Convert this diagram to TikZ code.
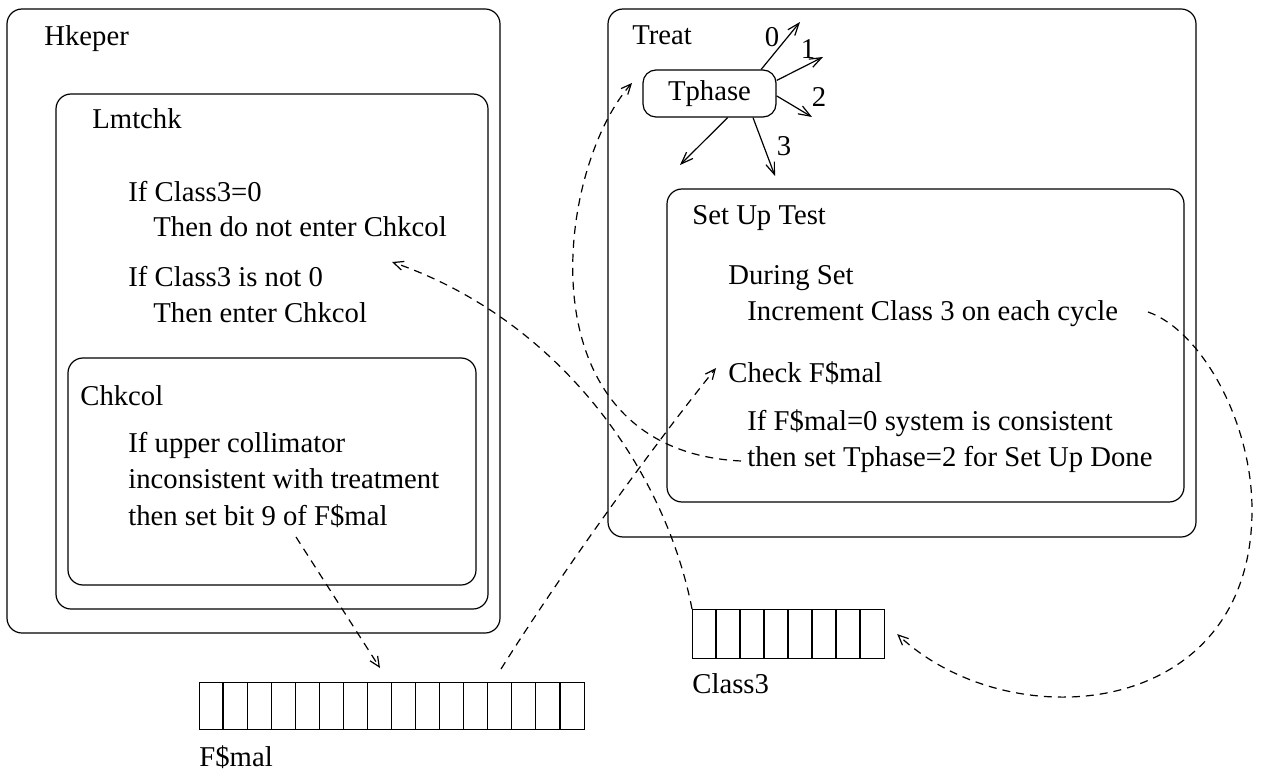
\documentclass[tikz,border=0pt]{standalone}
\usepackage{fontspec}
\setmainfont{Liberation Serif}
\usetikzlibrary{arrows.meta, positioning, fit}

\tikzset{
  box/.style={draw, rounded corners=7.5pt, inner sep=0pt, line width=0.6pt},
  txt/.style={anchor=base west, inner sep=0pt},
  link/.style={line width=0.6pt, dash pattern=on 4pt off 3pt,
    -{Straight Barb[length=5pt,width=4.5pt]}},
  go/.style={line width=0.6pt, -{Straight Barb[length=6pt,width=4.5pt]}},
  reg/.style={draw, line width=0.6pt, inner sep=0pt, anchor=north west}
}

\begin{document}
\begin{tikzpicture}[x=0.5pt, y=-0.5pt, font=\fontsize{14.35}{18.35}\selectfont]
\path[fill=white, use as bounding box] (0,0) rectangle (1263,770);

% Hkeper, Lmtchk and Chkcol
\node[box, fit={(7,9) (500,633)}] (hkeper) {};
\node[box, fit={(56,94) (488,609)}] (lmtchk) {};
\node[box, fit={(68,358) (476,585)}] (chkcol) {};
\node[txt] (hklbl) at (44,46) {Hkeper};
\node[txt] (lmlbl) at (92,129) {Lmtchk};
\node[txt] (ifzero) at (128,202) {If Class3=0};
\node[txt] (noenter) at (153,237) {Then do not enter Chkcol};
\node[txt] (ifnot) at (128,286) {If Class3 is not 0};
\node[txt] (enter) at (153,322) {Then enter Chkcol};
\node[txt] (cklbl) at (80,405) {Chkcol};
\node[txt] (upper) at (128,452) {If upper collimator};
\node[txt] (incons) at (128,488) {inconsistent with treatment};
\node[txt] (setbit) at (128,525) {then set bit 9 of F\$mal};

% Treat and Set Up Test
\node[box, fit={(608,9) (1196,537)}] (treat) {};
\node[box, fit={(667,189) (1184,502)}] (setup) {};
\node[txt] (trlbl) at (632,45) {Treat};
\node[txt] (sulbl) at (692,225) {Set Up Test};
\node[txt] (during) at (728,285) {During Set};
\node[txt] (incr) at (747,321) {Increment Class 3 on each cycle};
\node[txt] (check) at (728,382) {Check F\$mal};
\node[txt] (fzero) at (747,430) {If F\$mal=0 system is consistent};
\node[txt] (tset) at (747,466) {then set Tphase=2 for Set Up Done};

% Tphase and its transitions
\node[box, rounded corners=6.5pt, minimum width=66.5pt, minimum height=23.5pt]
  (tphase) at (709.5,93.5) {Tphase};
\coordinate (ph0) at (800,22);
\coordinate (ph1) at (823,57);
\coordinate (ph2) at (812,117);
\coordinate (ph3) at (775,176);
\coordinate (phx) at (680,165);
\draw[go] (tphase.25) -- (ph0);
\draw[go] (tphase.11) -- (ph1);
\draw[go] (tphase.-2) -- (ph2);
\draw[go] (tphase.-29) -- (ph3);
\draw[go] (tphase.-53) -- (phx);
\node (lbl0) at (772,37) {0};
\node (lbl1) at (808,49) {1};
\node (lbl2) at (819,97) {2};
\node (lbl3) at (784,146) {3};

% Registers
\node[reg, minimum width=192.5pt, minimum height=23.5pt] (fmal) at (199,682) {};
\foreach \i in {1,...,15}
  \draw[line width=0.6pt] ({199+24.06*\i},682) -- ({199+24.06*\i},729);
\node[txt] (fmlbl) at (199,766) {F\$mal};
\node[reg, minimum width=96pt, minimum height=24.5pt] (class3) at (692,609) {};
\foreach \i in {1,...,7}
  \draw[line width=0.6pt] ({692+24*\i},609) -- ({692+24*\i},658);
\node[txt] (c3lbl) at (692,693) {Class3};

% Dashed data flows
\coordinate (c1end) at (392,262);
\coordinate (c2start) at (741,461);
\coordinate (c2end) at (632,83);
\coordinate (c3start) at (501,669);
\coordinate (c3end) at (716,368);
\coordinate (c4start) at (296,537);
\coordinate (c4end) at (380,668);
\coordinate (c5start) at (1148,312);
\coordinate (c5end) at ([xshift=6pt]class3.east);
\draw[link] (class3.north west) .. controls (665,470) and (560,320) .. (c1end);
\draw[link] (c2start) .. controls (520,450) and (555,170) .. (c2end);
\draw[link] (c3start) .. controls (560,575) and (650,450) .. (c3end);
\draw[link] (c4start) -- (c4end);
\draw[link] (c5start) .. controls (1200,330) and (1252,420) .. (1252,510)
  .. controls (1252,720) and (1010,740) .. (c5end);
\end{tikzpicture}
\end{document}
